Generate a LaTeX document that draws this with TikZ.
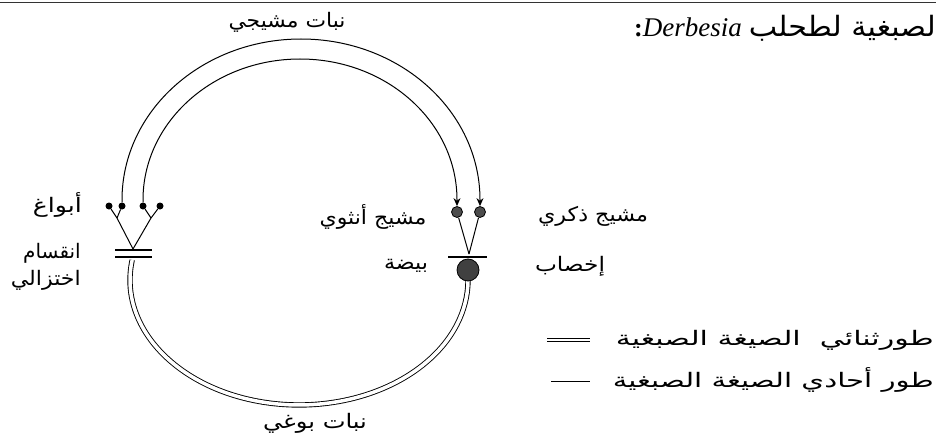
\documentclass[tikz,border=0pt]{standalone}
\usepackage{fontspec}
\usepackage{graphicx}
\setmainfont{Liberation Serif}
\newfontfamily\arabicfont[Script=Arabic]{DejaVu Sans}
\TeXXeTstate=1
\usetikzlibrary{arrows.meta}
\newcommand\artxt[2]{\resizebox{#1}{\height}{\arabicfont #2}}
\tikzset{
  lbl/.style={inner sep=0pt, font=\fontsize{20}{25}\selectfont},
  spore/.style={circle, fill=black, inner sep=0pt, minimum size=7pt},
  gamete/.style={circle, fill=black!70, draw=black, line width=0.8pt, inner sep=0pt, minimum size=11pt},
  egg/.style={circle, fill=black!75, draw=black, line width=0.8pt, inner sep=0pt, minimum size=22pt},
  hap/.style={line width=1pt},
  dip/.style={double, double distance=3.5pt, line width=0.9pt},
  bar/.style={line width=2.4pt},
  arr/.style={-{Stealth[length=8pt,width=7pt]}},
}
\begin{document}
\begin{tikzpicture}[x=1pt, y=-1pt]
\useasboundingbox (0,0) rectangle (936,441);
% top rule
\draw[line width=1pt, black!80] (0,3) -- (936,3);
% title
\node[anchor=base east, inner sep=0pt] (title) at (936,37)
  {{\bfseries\fontsize{26}{30}\selectfont :}{\itshape\fontsize{27}{30}\selectfont Derbesia}\hspace{7pt}{\fontsize{28}{32}\selectfont\artxt{187pt}{\beginR لصبغية لطحلب\endR}}};
% spores
\node[spore] (s1) at (109,206) {};
\node[spore] (s2) at (122,206) {};
\node[spore] (s3) at (143,206) {};
\node[spore] (s4) at (160,206) {};
\coordinate (f1) at (117,218);
\coordinate (f2) at (151,218);
\coordinate (v) at (133,249);
\draw[hap] (s1) -- (f1);
\draw[hap] (s2) -- (f1);
\draw[hap] (s3) -- (f2);
\draw[hap] (s4) -- (f2);
\draw[hap] (f1) -- (v);
\draw[hap] (f2) -- (v);
% meiosis bars
\coordinate (b1l) at (115,250); \coordinate (b1r) at (152,250);
\coordinate (b2l) at (115,257); \coordinate (b2r) at (152,257);
\draw[bar] (b1l) -- (b1r);
\draw[bar] (b2l) -- (b2r);
% gametes and fertilisation
\node[gamete] (g1) at (457,212) {};
\node[gamete] (g2) at (480,212) {};
\coordinate (fz) at (469,254);
\draw[hap] (g1) -- (fz);
\draw[hap] (g2) -- (fz);
% gametophyte arcs (haploid)
\draw[hap, arr] (s2.north) -- (122,200) arc[start angle=180, end angle=360, x radius=179, y radius=161] -- (g2.north);
\draw[hap, arr] (s3.north) -- (143,200) arc[start angle=180, end angle=360, x radius=157, y radius=141] -- (g1.north);
% sporophyte arc (diploid)
\coordinate (dstart) at (132.2,260);
\draw[dip] (dstart) arc[start angle=189.2, end angle=-2.3, x radius=169, y radius=125];
% egg and bar
\node[egg] (egg) at (468,270) {};
\coordinate (fbl) at (448,257); \coordinate (fbr) at (487,257);
\draw[bar] (fbl) -- (fbr);
% labels
\node[lbl] (ltop) at (287,22) {\artxt{117pt}{\beginR نبات مشيجي\endR}};
\node[lbl] (lbot) at (315,423) {\artxt{104pt}{\beginR نبات بوغي\endR}};
\node[lbl, anchor=east] (lspores) at (82,205) {\artxt{49pt}{\beginR أبواغ\endR}};
\node[lbl, anchor=north east, align=right] (lmeio) at (81,243) {{\arabicfont\beginR انقسام\endR}\\[2pt]\artxt{70pt}{\beginR اختزالي\endR}};
\node[lbl] (lfem) at (373,217) {\artxt{107pt}{\beginR مشيج أنثوي\endR}};
\node[lbl] (legg) at (406,266) {\artxt{44pt}{\beginR بيضة\endR}};
\node[lbl] (lmale) at (593,216) {\artxt{110pt}{\beginR مشيج ذكري\endR}};
\node[lbl] (lfert) at (570,266) {\artxt{70pt}{\beginR إخصاب\endR}};
% legend
\node[lbl, anchor=east] (leg1) at (934,340) {\artxt{318pt}{\beginR طورثنائي\ \ الصيغة الصبغية\endR}};
\node[lbl, anchor=east] (leg2) at (934,380) {\artxt{321pt}{\beginR طور أحادي الصيغة الصبغية\endR}};
\coordinate (k1a) at (547,340); \coordinate (k1b) at (590,340);
\coordinate (k2a) at (551,381); \coordinate (k2b) at (590,381);
\draw[line width=0.7pt, double, double distance=2.5pt] (k1a) -- (k1b);
\draw[line width=0.8pt] (k2a) -- (k2b);
\end{tikzpicture}
\end{document}
